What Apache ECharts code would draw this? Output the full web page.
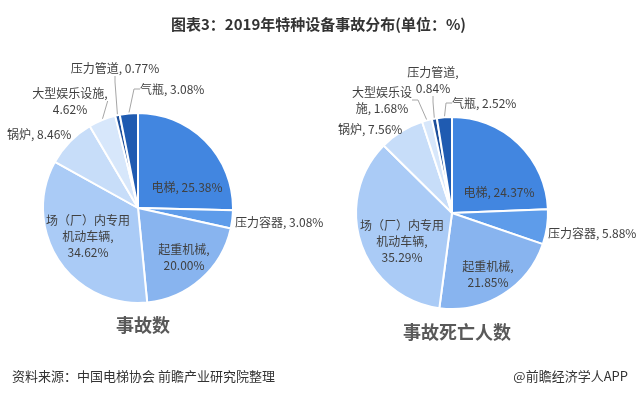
<!DOCTYPE html>
<html><head><meta charset="utf-8">
<script src="https://cdn.jsdelivr.net/npm/echarts@6/dist/echarts.min.js"></script>
<style>html,body{margin:0;padding:0;background:#fff}#c{width:637px;height:394px}</style>
</head><body><div id="c"></div>
<script>
const categories = ['电梯','压力容器','起重机械','场（厂）内专用机动车辆','锅炉','大型娱乐设施','压力管道','气瓶'];
const accidentShare = [25.38, 3.08, 20.00, 34.62, 8.46, 4.62, 0.77, 3.08];
const deathShare = [24.37, 5.88, 21.85, 35.29, 7.56, 1.68, 0.84, 2.52];
const leftLabelText = ['电梯','压力容器','起重机械','场（厂）内专用\n机动车辆','锅炉','大型娱乐设施\n','压力管道','气瓶'];
const rightLabelText = ['电梯','压力容器','起重机械','场（厂）内专用\n机动车辆','锅炉','大型娱乐设\n施','压力管道\n','气瓶'];
const insideBreak = [false,false,true,true,false,false,false,false];

const colors = ['#4286E0','#5E9CEA','#88B4EF','#AACBF6','#C7DDF9','#D7E7FB','#1C4F9C','#1F5BB1'];
const withLine = [false,false,false,false,false,true,true,true];

const leftPos = [[187,187,'center'],[235,222,'left'],[184,257,'center'],[88,236,'center'],[7,134,'left'],[70,101,'center'],[115,68,'center'],[140,89,'left']];
const rightPos = [[499,192,'center'],[548,233,'left'],[488,274,'center'],[402,241,'center'],[338,129,'left'],[382,100,'center'],[433,80,'center'],[452,103,'left']];

function fmtLabel(texts){
  return function(p){
    const t = texts[p.dataIndex];
    const v = p.value.toFixed(2) + '%';
    if (insideBreak[p.dataIndex]) return t + ',\n' + v;
    if (t.endsWith('\n')) return t.slice(0,-1) + ',\n' + v;
    return t + ', ' + v;
  };
}
function buildData(vals){
  return categories.map((n,i)=>({
    name:n, value:vals[i],
    itemStyle:{color:colors[i]},
    labelLine:{show:withLine[i], length:8, length2:6, lineStyle:{color:'#A6A6A6',width:1}}
  }));
}
function layoutFn(pos){
  return function(params){
    const p = pos[params.dataIndex];
    return {x:p[0], y:p[1], align:p[2], verticalAlign:'middle'};
  };
}
const labelStyle = {show:true, color:'#404040', fontSize:12, lineHeight:16, fontFamily:'"Noto Sans CJK SC", sans-serif'};

const chart = echarts.init(document.getElementById('c'), null, {renderer:'canvas'});
chart.setOption({
  animation:false,
  backgroundColor:'#fff',
  title:[
    {text:'图表3：2019年特种设备事故分布(单位：%)', left:'center', top:12,
     textStyle:{fontSize:15, fontWeight:'bold', color:'#333', fontFamily:'"Noto Sans CJK SC", sans-serif'}},
    {text:'事故数', left:138, top:311, textAlign:'center',
     textStyle:{fontSize:18, fontWeight:'bold', color:'#595959', fontFamily:'"Noto Sans CJK SC", sans-serif'}},
    {text:'事故死亡人数', left:452, top:318, textAlign:'center',
     textStyle:{fontSize:18, fontWeight:'bold', color:'#595959', fontFamily:'"Noto Sans CJK SC", sans-serif'}},
    {text:'资料来源：中国电梯协会 前瞻产业研究院整理', left:7, top:365,
     textStyle:{fontSize:13, fontWeight:'normal', color:'#333', fontFamily:'"Noto Sans CJK SC", sans-serif'}},
    {text:'@前瞻经济学人APP', right:4, top:365,
     textStyle:{fontSize:13, fontWeight:'normal', color:'#333', fontFamily:'"Noto Sans CJK SC", sans-serif'}}
  ],
  series:[
    {type:'pie', center:[138,208], radius:95, startAngle:90, clockwise:true,
     avoidLabelOverlap:false, itemStyle:{borderColor:'#fff', borderWidth:2},
     label:Object.assign({formatter:fmtLabel(leftLabelText)}, labelStyle),
     labelLayout:layoutFn(leftPos),
     data:buildData(accidentShare)},
    {type:'pie', center:[452,213], radius:96, startAngle:90, clockwise:true,
     avoidLabelOverlap:false, itemStyle:{borderColor:'#fff', borderWidth:2},
     label:Object.assign({formatter:fmtLabel(rightLabelText)}, labelStyle),
     labelLayout:layoutFn(rightPos),
     data:buildData(deathShare)}
  ]
});
</script></body></html>
